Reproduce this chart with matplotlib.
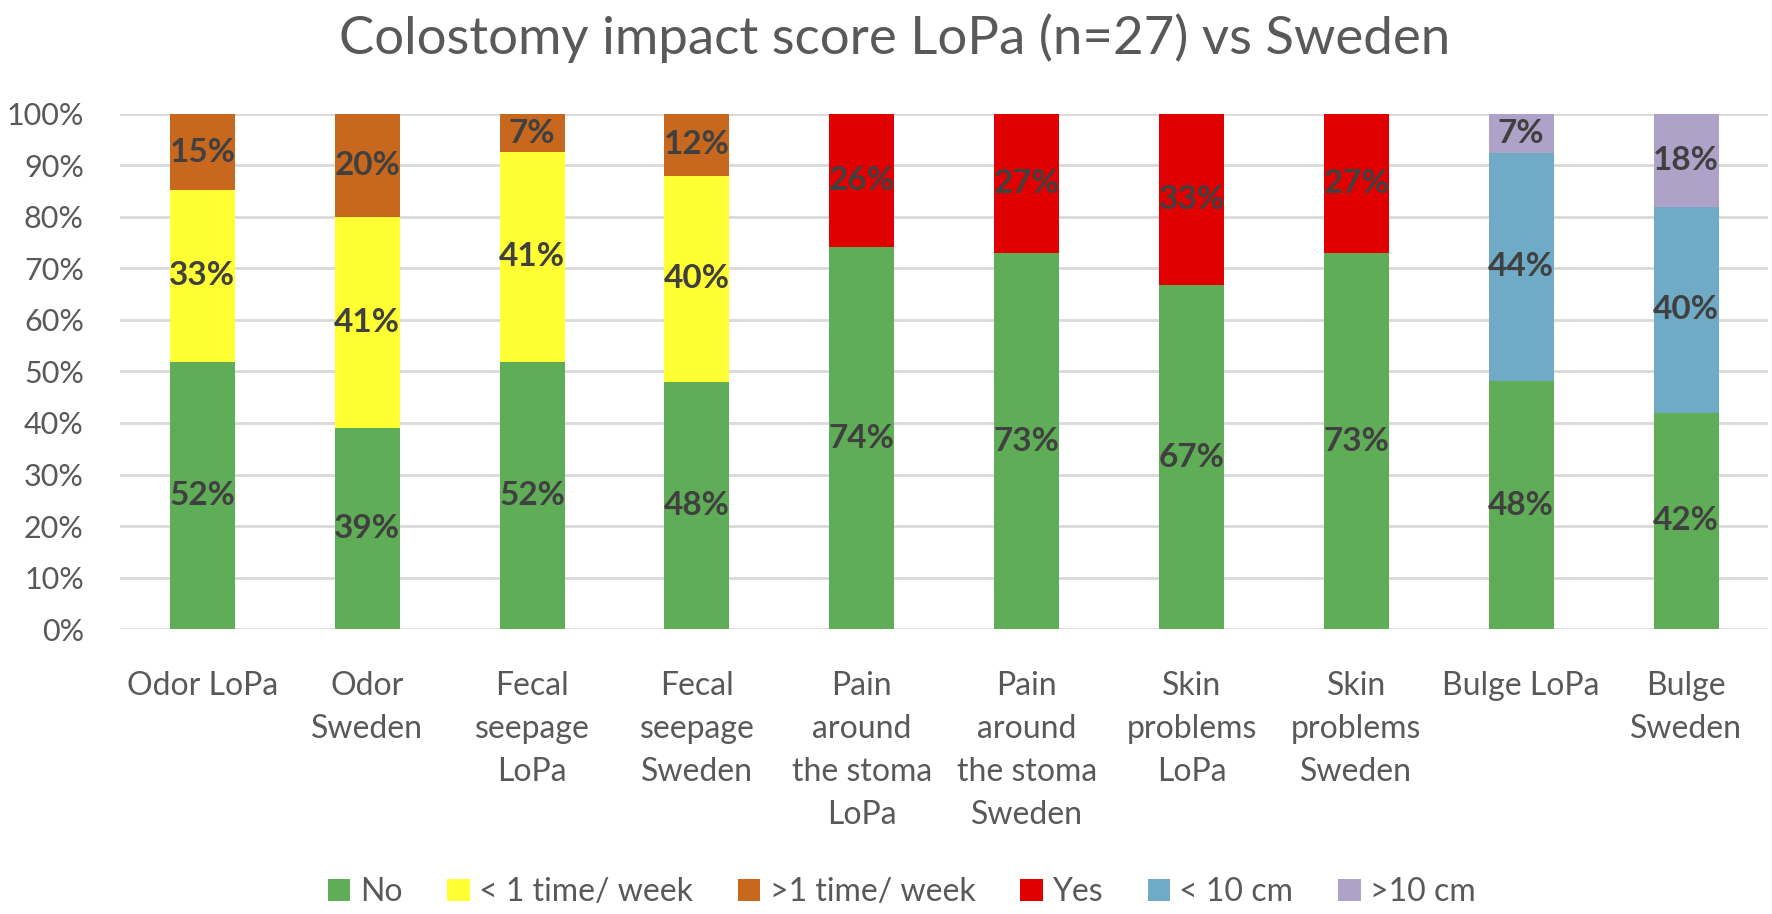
import matplotlib.pyplot as plt
import numpy as np

categories = ['Odor LoPa', 'Odor\nSweden', 'Fecal\nseepage\nLoPa', 'Fecal\nseepage\nSweden',
              'Pain\naround\nthe stoma\nLoPa', 'Pain\naround\nthe stoma\nSweden',
              'Skin\nproblems\nLoPa', 'Skin\nproblems\nSweden', 'Bulge LoPa', 'Bulge\nSweden']

# percentages
no_vals = [51.9, 39, 51.9, 48, 74.1, 73, 66.7, 73, 48.1, 42]
lt1_week = [33.3, 41, 40.7, 40, 0, 0, 0, 0, 0, 0]
gt1_week = [14.8, 20, 7.4, 12, 0, 0, 0, 0, 0, 0]
yes_vals = [0, 0, 0, 0, 25.9, 27, 33.3, 27, 0, 0]
lt10_cm = [0, 0, 0, 0, 0, 0, 0, 0, 44.4, 40]
gt10_cm = [0, 0, 0, 0, 0, 0, 0, 0, 7.4, 18]

series_names = ['No', '< 1 time/ week', '>1 time/ week', 'Yes', '< 10 cm', '>10 cm']
colors = ['#5FAD56', '#FFFF33', '#C8681E', '#E00000', '#6FAAC6', '#AEA2C9']

plt.rcParams['font.family'] = ['Lato', 'DejaVu Sans']
txt_col = '#595959'

fig = plt.figure(figsize=(17.72, 9.14), dpi=100)
ax = fig.add_axes([0.0677, 0.3118, 0.9303, 0.5635])

x = np.arange(len(categories))
bottom = np.zeros(len(categories))
all_series = [no_vals, lt1_week, gt1_week, yes_vals, lt10_cm, gt10_cm]
for vals, name, col in zip(all_series, series_names, colors):
    vals = np.array(vals, dtype=float)
    ax.bar(x, vals, 0.394, bottom=bottom, color=col, label=name, zorder=3)
    for i, v in enumerate(vals):
        if v > 0:
            ax.text(x[i], bottom[i] + v / 2, f'{v:.0f}%', ha='center', va='center',
                    fontsize=24, fontweight='bold', color='#404040', zorder=4)
    bottom += vals

ax.set_xlim(-0.5, len(categories) - 0.5)
ax.set_ylim(0, 100)
ax.set_yticks(np.arange(0, 101, 10))
ax.set_yticklabels([f'{t}%' for t in range(0, 101, 10)])
ax.yaxis.grid(True, color='#D9D9D9', linewidth=2, zorder=0)
ax.tick_params(axis='y', length=0, pad=26, labelsize=22, labelcolor=txt_col)
ax.set_xticks(x)
ax.set_xticklabels(categories, linespacing=1.55)
ax.tick_params(axis='x', length=0, pad=30, labelsize=23, labelcolor=txt_col)
for s in ax.spines.values():
    s.set_visible(False)

fig.suptitle('Colostomy impact score LoPa (n=27) vs Sweden', x=0.505, y=0.985,
             fontsize=38, color=txt_col)

fig.legend(loc='center', bbox_to_anchor=(0.509, 0.024), ncol=6, frameon=False,
           fontsize=23, handlelength=0.7, handleheight=0.7, handletextpad=0.3,
           columnspacing=1.4, labelcolor=txt_col)

fig.savefig('out.png', dpi=100)
